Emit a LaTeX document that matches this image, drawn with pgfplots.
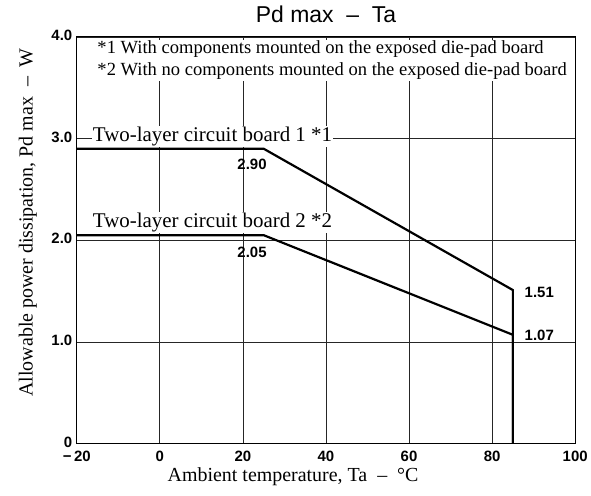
\documentclass[border=0pt]{standalone}
\usepackage{fontspec}
\setmainfont{Liberation Serif}
\setsansfont{Liberation Sans}
\usepackage{pgfplots}
\pgfplotsset{compat=1.18}
\begin{document}
\begin{tikzpicture}
\begin{axis}[
    name=ax,
    scale only axis,
    width=500pt, height=408pt,
    xmin=-20, xmax=100, ymin=0, ymax=4,
    xtick={-20,0,20,40,60,80,100},
    xticklabels={−\,20,0,20,40,60,80,100},
    ytick={0,1,2,3,4},
    yticklabels={0,1.0,2.0,3.0,4.0},
    major tick length=0pt,
    grid=major,
    major grid style={black!85, line width=0.7pt},
    axis line style={black, line width=0.9pt},
    tick label style={font=\sffamily\bfseries\fontsize{15}{15}\selectfont},
    xticklabel style={yshift=-4pt},
    yticklabel style={xshift=-1pt, yshift=1.5pt},
    title={Pd max \ – \ Ta},
    title style={font=\sffamily\fontsize{23}{23}\selectfont, at={(axis description cs:0.5,1.04)}, anchor=center},
    xlabel={Ambient temperature, Ta \ – \ °C},
    ylabel={Allowable power dissipation, Pd max \ – \ W},
    every axis x label/.style={at={(axis description cs:0.434,-0.082)}, anchor=center, font=\fontsize{20}{20}\selectfont},
    every axis y label/.style={at={(axis description cs:-0.098,0.544)}, rotate=90, anchor=center, font=\fontsize{20}{20}\selectfont},
    clip=false,
]
% board 1
\addplot[black, line width=2.2pt] coordinates {(-20,2.90) (25,2.90) (85,1.51) (85,0)};
% board 2
\addplot[black, line width=2.2pt] coordinates {(-20,2.05) (25,2.05) (85,1.07) (85,0)};

\node[anchor=base west, fill=white, inner sep=1pt, font=\fontsize{21}{21}\selectfont] at (axis cs:-16.4,2.975) {Two-layer circuit board 1 *1};
\node[anchor=base west, fill=white, inner sep=1pt, font=\fontsize{21}{21}\selectfont] at (axis cs:-16.4,2.13) {Two-layer circuit board 2 *2};
\node[font=\sffamily\bfseries\fontsize{15}{15}\selectfont] at (axis cs:22.2,2.745) {2.90};
\node[font=\sffamily\bfseries\fontsize{15}{15}\selectfont] at (axis cs:22.2,1.88) {2.05};
\node[anchor=west, font=\sffamily\bfseries\fontsize{15}{15}\selectfont] at (axis cs:87,1.49) {1.51};
\node[anchor=west, font=\sffamily\bfseries\fontsize{15}{15}\selectfont] at (axis cs:87,1.06) {1.07};
\node[anchor=north west, fill=white, inner sep=1pt, align=left, font=\fontsize{18.6}{22}\selectfont] at (axis cs:-15.3,3.97)
  {*1 With components mounted on the exposed die-pad board\\*2 With no components mounted on the exposed die-pad board};
\end{axis}
\path (ax.south west) ++(-77pt,-52pt) rectangle ([shift={(14pt,37pt)}]ax.north east);
\end{tikzpicture}
\end{document}
